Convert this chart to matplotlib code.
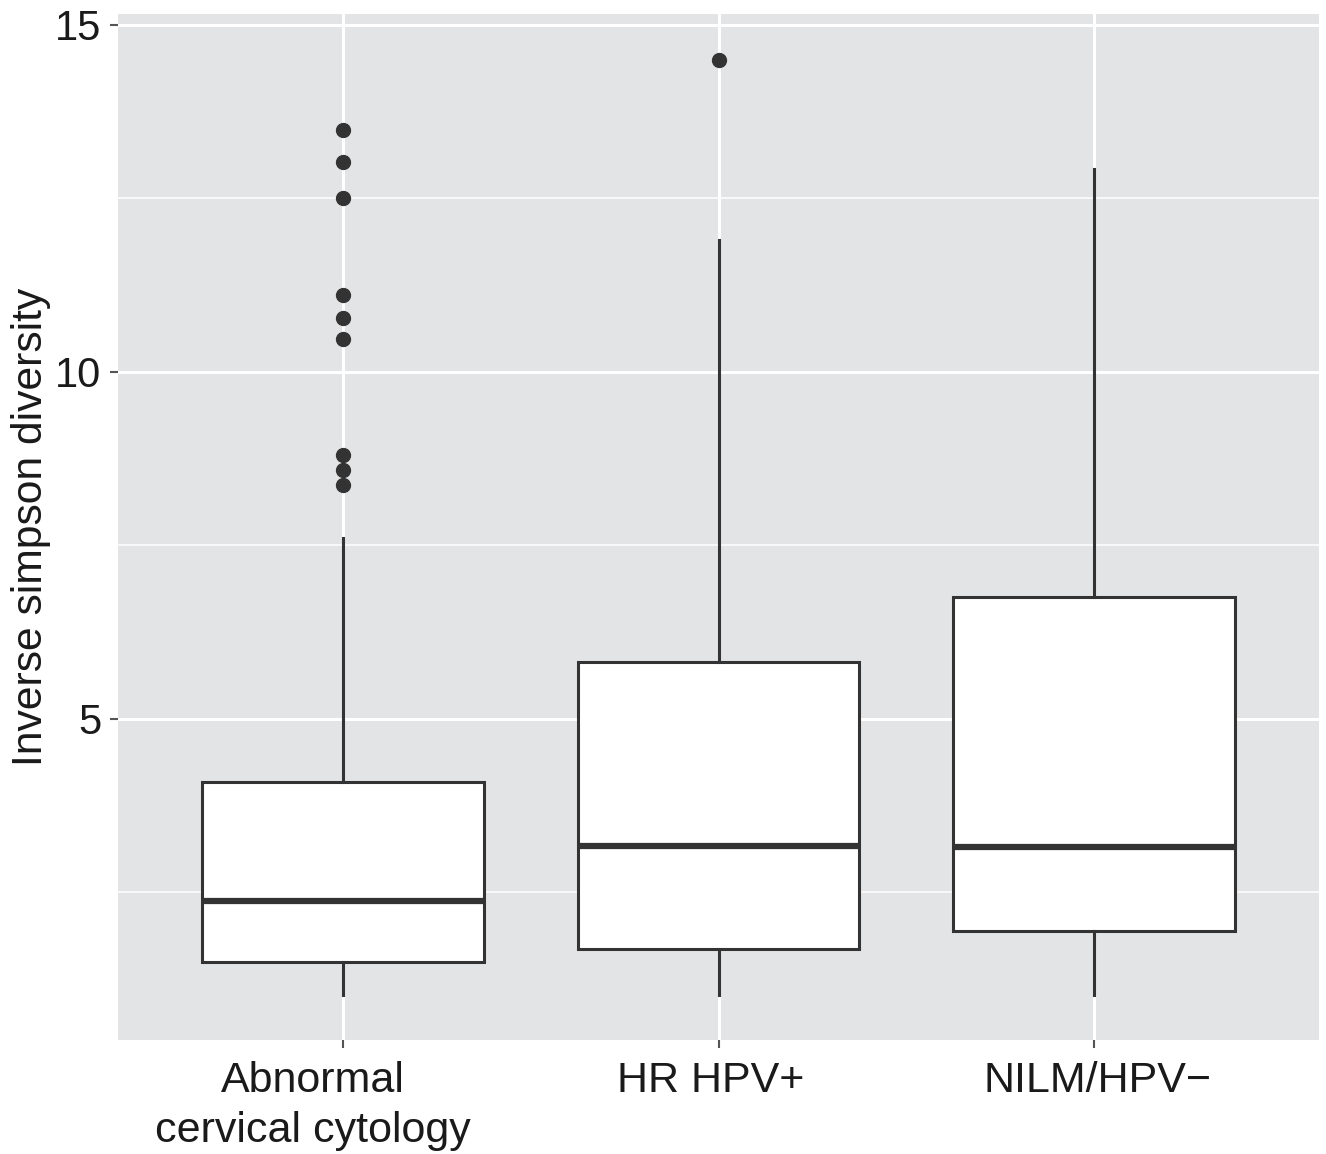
import matplotlib.pyplot as plt
import matplotlib.transforms as mtransforms
import numpy as np

plt.rcParams['font.family'] = ['Liberation Sans', 'DejaVu Sans']

# box stats
groups = ["Abnormal\ncervical cytology", "HR HPV+", "NILM/HPV\u2212"]
whisker_low = [1.02, 1.02, 1.02]
q1 = [1.49, 1.68, 1.94]
medians = [2.37, 3.16, 3.15]
q3 = [4.08, 5.81, 6.75]
whisker_high = [7.61, 11.90, 12.92]
outliers = [
    [13.48, 13.02, 12.50, 11.11, 10.78, 10.47, 8.80, 8.59, 8.37],
    [14.49],
    [],
]

stats = []
for i in range(len(groups)):
    stats.append(dict(whislo=whisker_low[i], q1=q1[i], med=medians[i],
                      q3=q3[i], whishi=whisker_high[i], fliers=outliers[i]))

fig = plt.figure(figsize=(13.26, 11.54), dpi=100)
ax = fig.add_axes([0.089, 0.099, 0.906, 0.889])
ax.set_facecolor('#e3e4e6')

dark = '#333333'
ax.bxp(stats, positions=[1, 2, 3], widths=0.75, patch_artist=True,
       showcaps=False,
       boxprops=dict(facecolor='white', edgecolor=dark, linewidth=2.2),
       whiskerprops=dict(color=dark, linewidth=2.2),
       medianprops=dict(color=dark, linewidth=4.5),
       flierprops=dict(marker='o', markersize=10, markerfacecolor=dark,
                       markeredgecolor=dark), zorder=3)

ax.set_xlim(0.4, 3.6)
ax.set_ylim(0.37, 15.16)
ax.set_yticks([5, 10, 15])
ax.set_yticks([2.5, 7.5, 12.5], minor=True)
ax.set_xticks([1, 2, 3])
ax.set_xticklabels(groups, linespacing=1.35)

ax.grid(which='major', color='white', linewidth=2.2, zorder=0)
ax.grid(which='minor', axis='y', color='white', linewidth=1.1, zorder=0)
ax.set_axisbelow(True)
for s in ax.spines.values():
    s.set_visible(False)

ax.tick_params(axis='both', which='major', length=6, width=1.5, color='#555555',
               labelsize=31, labelcolor='#1a1a1a')
ax.tick_params(axis='y', which='major', labelsize=30, pad=6)
ax.tick_params(axis='x', which='major', pad=9)
ax.tick_params(axis='y', which='minor', length=0)
ax.set_ylabel('Inverse simpson diversity', fontsize=30.7, color='#1a1a1a', labelpad=3)

# the labels in the original sit a little off their ticks
shift_pt = [-21.6, -5.8, 2.2]
for lab, dx in zip(ax.get_xticklabels(), shift_pt):
    lab.set_transform(lab.get_transform() +
                      mtransforms.ScaledTranslation(dx / 72, 0, fig.dpi_scale_trans))

fig.savefig('out.png', dpi=100)
